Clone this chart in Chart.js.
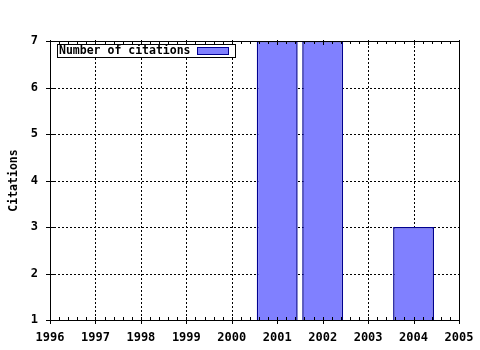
<!DOCTYPE html>
<html>
<head>
<meta charset="utf-8">
<script src="https://cdn.jsdelivr.net/npm/chart.js@4/dist/chart.umd.min.js"></script>
<style>
html,body{margin:0;padding:0;background:#fff;}
#wrap{width:480px;height:350px;position:relative;}
</style>
</head>
<body>
<div id="wrap"><canvas id="c" width="480" height="350"></canvas></div>
<script>
const years = [2001, 2002, 2004];
const citations = [7, 7, 3];
const xTicks = [1996, 1997, 1998, 1999, 2000, 2001, 2002, 2003, 2004, 2005];
const yTicks = [1, 2, 3, 4, 5, 6, 7];
const seriesLabel = 'Number of citations';
const yTitle = 'Citations';

const FAMILY = '"DejaVu Sans Mono", "Liberation Mono", monospace';
const FONT = 'bold 11.5px ' + FAMILY;

const gridPlugin = {
  id: 'dotgrid',
  beforeDatasetsDraw(chart) {
    const ctx = chart.ctx;
    const a = chart.chartArea;
    const xs = chart.scales.x, ys = chart.scales.y;
    ctx.save();
    ctx.strokeStyle = '#000';
    ctx.lineWidth = 1;
    ctx.setLineDash([2, 2]);
    ctx.beginPath();
    for (const v of xTicks) {
      const px = Math.round(xs.getPixelForValue(v)) + 0.5;
      if (px <= a.left + 1 || px >= a.right - 1) continue;
      ctx.moveTo(px, a.bottom); ctx.lineTo(px, a.top);
    }
    for (const v of yTicks) {
      const py = Math.round(ys.getPixelForValue(v)) + 0.5;
      if (py <= a.top + 1 || py >= a.bottom - 1) continue;
      ctx.moveTo(a.left, py); ctx.lineTo(a.right, py);
    }
    ctx.stroke();
    ctx.restore();
  }
};

const framePlugin = {
  id: 'frame',
  afterDraw(chart) {
    const ctx = chart.ctx;
    const a = chart.chartArea;
    const xs = chart.scales.x, ys = chart.scales.y;
    ctx.save();
    ctx.strokeStyle = '#000';
    ctx.lineWidth = 1;
    ctx.setLineDash([]);
    ctx.beginPath();
    ctx.rect(Math.round(a.left) + 0.5, Math.round(a.top) + 0.5, Math.round(a.right - a.left), Math.round(a.bottom - a.top));
    ctx.stroke();
    ctx.beginPath();
    for (let i = 0; i < xTicks.length; i++) {
      const px = Math.round(xs.getPixelForValue(xTicks[i])) + 0.5;
      ctx.moveTo(px, a.bottom - 3); ctx.lineTo(px, a.bottom + 4);
      ctx.moveTo(px, a.top - 1); ctx.lineTo(px, a.top + 4);
      if (i < xTicks.length - 1) {
        for (let k = 1; k < 5; k++) {
          const mx = Math.round(xs.getPixelForValue(xTicks[i] + k / 5)) + 0.5;
          ctx.moveTo(mx, a.bottom - 3); ctx.lineTo(mx, a.bottom);
          ctx.moveTo(mx, a.top); ctx.lineTo(mx, a.top + 3);
        }
      }
    }
    for (const v of yTicks) {
      const py = Math.round(ys.getPixelForValue(v)) + 0.5;
      ctx.moveTo(a.left - 4, py); ctx.lineTo(a.left + 4, py);
    }
    ctx.stroke();
    ctx.fillStyle = '#000';
    ctx.font = FONT;
    ctx.textAlign = 'center';
    ctx.textBaseline = 'middle';
    ctx.translate(14, (a.top + a.bottom) / 2);
    ctx.rotate(-Math.PI / 2);
    ctx.fillText(yTitle, 0, 0);
    ctx.restore();
    // legend box
    ctx.save();
    ctx.font = FONT;
    ctx.fillStyle = '#fff';
    ctx.fillRect(57, 44, 178, 13);
    ctx.strokeStyle = '#000';
    ctx.lineWidth = 1;
    ctx.strokeRect(57.5, 44.5, 178, 13);
    ctx.fillStyle = '#000';
    ctx.textAlign = 'left';
    ctx.textBaseline = 'middle';
    ctx.fillText(chart.data.datasets[0].label, 59, 51);
    ctx.fillStyle = '#8080ff';
    ctx.fillRect(197, 47, 31, 7);
    ctx.strokeStyle = '#000090';
    ctx.strokeRect(197.5, 47.5, 31, 7);
    ctx.restore();
  }
};

new Chart(document.getElementById('c'), {
  type: 'bar',
  data: {
    datasets: [{
      label: seriesLabel,
      data: years.map((y, i) => ({x: y, y: citations[i]})),
      backgroundColor: '#8080ff',
      borderColor: '#000090',
      borderWidth: 1.5,
      borderSkipped: false,
      categoryPercentage: 1.0,
      barPercentage: 0.9
    }]
  },
  options: {
    responsive: false,
    animation: false,
    devicePixelRatio: 1,
    layout: {padding: {left: 0, right: 21, top: 41, bottom: 0}},
    plugins: {legend: {display: false}, tooltip: {enabled: false}},
    scales: {
      x: {
        type: 'linear',
        offset: false,
        min: 1996, max: 2005,
        afterBuildTicks: (s) => { s.ticks = xTicks.map(v => ({value: v})); },
        afterFit: (s) => { s.height = 30; s.paddingLeft = 0; s.paddingRight = 0; },
        ticks: {
          color: '#000',
          font: {family: FAMILY, size: 12, weight: 'bold'},
          padding: 11,
          maxRotation: 0,
          autoSkip: false,
          callback: (v) => String(v)
        },
        grid: {display: false, drawTicks: false},
        border: {display: false}
      },
      y: {
        type: 'linear',
        min: 1, max: 7,
        afterBuildTicks: (s) => { s.ticks = yTicks.map(v => ({value: v})); },
        afterFit: (s) => { s.width = 50; s.paddingTop = 0; s.paddingBottom = 0; },
        ticks: {
          color: '#000',
          font: {family: FAMILY, size: 12, weight: 'bold'},
          padding: 12,
          callback: (v) => String(v)
        },
        grid: {display: false, drawTicks: false},
        border: {display: false}
      }
    }
  },
  plugins: [gridPlugin, framePlugin]
});
</script>
</body>
</html>
